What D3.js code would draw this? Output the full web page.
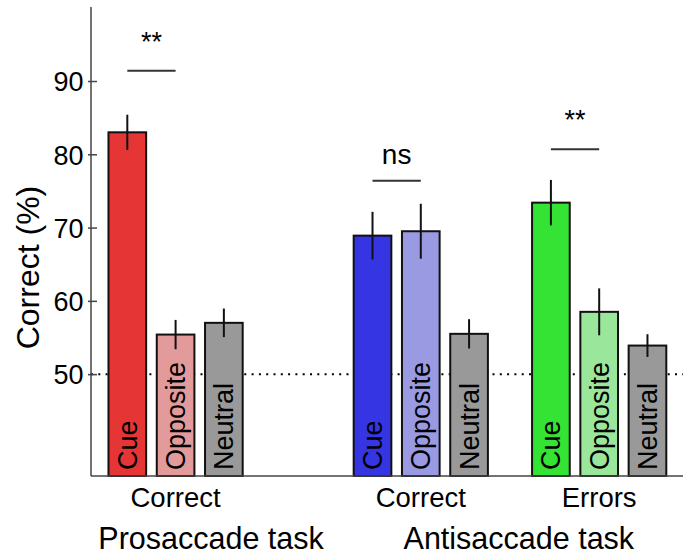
<!DOCTYPE html>
<html>
<head>
<meta charset="utf-8">
<script src="https://cdn.jsdelivr.net/npm/d3@7"></script>
<style>
  html, body { margin: 0; padding: 0; background: #fff; }
  svg { display: block; }
  text { font-family: "Liberation Sans", Arial, Helvetica, sans-serif; fill: #000; }
</style>
</head>
<body>
<svg id="chart" width="691" height="559"></svg>
<script>
// ---- data ----
const conditions = ["Cue", "Opposite", "Neutral"];
const groupLabels = ["Correct", "Correct", "Errors"];
const taskLabels = ["Prosaccade task", "Antisaccade task"];
const prosaccadeCorrectMean = [83.0, 55.4, 57.0];
const prosaccadeCorrectSem = [2.4, 2.0, 1.95];
const antisaccadeCorrectMean = [68.9, 69.5, 55.5];
const antisaccadeCorrectSem = [3.25, 3.75, 2.0];
const antisaccadeErrorsMean = [73.4, 58.5, 53.9];
const antisaccadeErrorsSem = [3.1, 3.2, 1.55];
const sigLabels = ["**", "ns", "**"];
const sigLevels = [91.4, 76.4, 80.7];
const yTicks = [50, 60, 70, 80, 90];
const chanceLevel = 50;
const yTitle = "Correct (%)";

// ---- styling / layout ----
const groupColors = [
  ["#e53535", "#e39a9a", "#999999"],
  ["#3535e3", "#9a9ae3", "#999999"],
  ["#35e335", "#9ae69a", "#999999"]
];
const groupCenters = [1, 6.079, 9.774];   // slot units
const taskCenters = [1.735, 8.11];       // slot units

const means = [prosaccadeCorrectMean, antisaccadeCorrectMean, antisaccadeErrorsMean];
const sems = [prosaccadeCorrectSem, antisaccadeCorrectSem, antisaccadeErrorsSem];

const bars = [];
means.forEach((arr, g) => arr.forEach((v, i) => bars.push({
  g, i, cond: conditions[i], mean: v, sem: sems[g][i], color: groupColors[g][i]
})));

const svg = d3.select("#chart");
const x = d3.scaleLinear().domain([-0.752, 11.51]).range([91, 683]);
const y = d3.scaleLinear().domain([36.1, 100.1]).range([476, 7]);
const barW = x(0.78) - x(0);
const axisColor = "#444";

// chance line
svg.append("line")
  .attr("x1", x(-0.752)).attr("x2", x(11.51))
  .attr("y1", y(chanceLevel)).attr("y2", y(chanceLevel))
  .attr("stroke", "#000").attr("stroke-width", 2)
  .attr("stroke-dasharray", "2,5.3");

// bars
const bx = d => x(groupCenters[d.g] + d.i - 1);
svg.selectAll("rect.bar").data(bars).join("rect")
  .attr("class", "bar")
  .attr("x", d => bx(d) - barW / 2)
  .attr("y", d => y(d.mean))
  .attr("width", barW)
  .attr("height", d => y(y.domain()[0]) - y(d.mean))
  .attr("fill", d => d.color)
  .attr("stroke", "#111").attr("stroke-width", 2);

// error bars
svg.selectAll("line.err").data(bars).join("line")
  .attr("class", "err")
  .attr("x1", bx).attr("x2", bx)
  .attr("y1", d => y(d.mean - d.sem)).attr("y2", d => y(d.mean + d.sem))
  .attr("stroke", "#111").attr("stroke-width", 2);

// bar labels (rotated)
svg.selectAll("text.blab").data(bars).join("text")
  .attr("class", "blab")
  .attr("transform", d => `translate(${bx(d) + 9.5},${y(y.domain()[0]) - 6}) rotate(-90)`)
  .attr("text-anchor", "start")
  .style("font-size", "27px")
  .text(d => d.cond);

// axes
const yAxis = d3.axisLeft(y).tickValues(yTicks).tickSize(0).tickPadding(0);
svg.append("line")
  .attr("x1", x(-0.752)).attr("x2", x(-0.752))
  .attr("y1", y(100.1)).attr("y2", y(36.1))
  .attr("stroke", axisColor).attr("stroke-width", 1.5);
svg.append("line")
  .attr("x1", x(-0.752)).attr("x2", x(11.51))
  .attr("y1", y(36.1)).attr("y2", y(36.1))
  .attr("stroke", axisColor).attr("stroke-width", 1.5);
const gy = svg.append("g").attr("transform", `translate(${x(-0.752)},0)`).call(yAxis);
gy.select(".domain").remove();
gy.selectAll(".tick line").attr("x1", -3).attr("x2", 6).attr("stroke", axisColor).attr("stroke-width", 1.5);
gy.selectAll(".tick text")
  .attr("x", -7.5).attr("dy", "0.36em")
  .style("font-size", "27px")
  .style("font-family", "'Liberation Sans', Arial, sans-serif")
  .attr("fill", "#000");

// y title
svg.append("text")
  .attr("transform", `translate(39,${(y(36.1) + y(100.1)) / 2 + 26}) rotate(-90)`)
  .attr("text-anchor", "middle")
  .style("font-size", "32px")
  .text(yTitle);

// group labels
svg.selectAll("text.glab").data(groupLabels).join("text")
  .attr("class", "glab")
  .attr("x", (d, g) => x(groupCenters[g]))
  .attr("y", 507)
  .attr("text-anchor", "middle")
  .style("font-size", "27.5px")
  .text(d => d);

// task labels
svg.selectAll("text.tlab").data(taskLabels).join("text")
  .attr("class", "tlab")
  .attr("x", (d, t) => x(taskCenters[t]))
  .attr("y", 549)
  .attr("text-anchor", "middle")
  .style("font-size", "30.5px")
  .text(d => d);

// significance
sigLabels.forEach((lab, g) => {
  const x1 = x(groupCenters[g] - 1), x2 = x(groupCenters[g]);
  svg.append("line")
    .attr("x1", x1).attr("x2", x2)
    .attr("y1", y(sigLevels[g])).attr("y2", y(sigLevels[g]))
    .attr("stroke", "#333").attr("stroke-width", 2);
  svg.append("text")
    .attr("x", (x1 + x2) / 2)
    .attr("y", y(sigLevels[g]) - (lab === "ns" ? 17 : 20))
    .attr("text-anchor", "middle")
    .style("font-size", lab === "ns" ? "28px" : "27px")
    .text(lab);
});
</script>
</body>
</html>
